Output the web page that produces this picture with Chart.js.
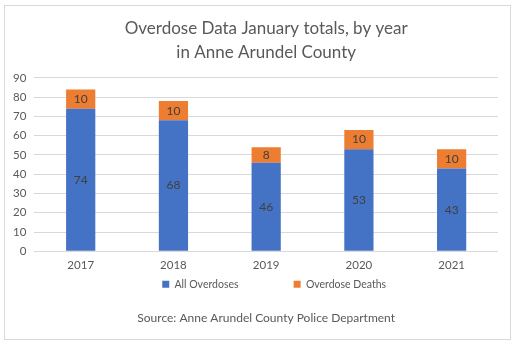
<!DOCTYPE html>
<html>
<head>
<meta charset="utf-8">
<script src="https://cdn.jsdelivr.net/npm/chart.js@4/dist/chart.umd.min.js"></script>
<style>
body { margin: 0; background: #fff; width: 517px; height: 347px; overflow: hidden; }
#box { position: absolute; left: 4px; top: 5px; width: 505px; height: 333px; border: 1px solid #d9d9d9; }
</style>
</head>
<body>
<div id="box"><canvas id="chart" width="505" height="333"></canvas></div>
<script>
// ====================
// Data
// ====================
const years = ["2017", "2018", "2019", "2020", "2021"];
const allOverdoses = [74, 68, 46, 53, 43];
const overdoseDeaths = [10, 10, 8, 10, 10];
const yTicks = [0, 10, 20, 30, 40, 50, 60, 70, 80, 90];

const FONT = "Lato, sans-serif";

// labels in the middle of each bar segment
const barLabels = {
    id: "barLabels",
    afterDatasetsDraw(chart) {
        const ctx = chart.ctx;
        ctx.save();
        ctx.font = "12px " + FONT;
        ctx.fillStyle = "#404040";
        ctx.textAlign = "center";
        ctx.textBaseline = "middle";
        chart.data.datasets.forEach((ds, i) => {
            chart.getDatasetMeta(i).data.forEach((bar, j) => {
                const mid = (bar.y + bar.base) / 2;
                ctx.fillText(ds.data[j], bar.x, mid);
            });
        });
        ctx.restore();
    }
};

// nudge the legend a bit right, like the original
const legendShift = {
    id: "legendShift",
    afterLayout(chart) {
        const lg = chart.legend;
        lg.left += 8;
        lg.right += 8;
    }
};

new Chart(document.getElementById("chart"), {
    type: "bar",
    data: {
        labels: years,
        datasets: [
            { label: "All Overdoses", data: allOverdoses, backgroundColor: "#4472c4" },
            { label: "Overdose Deaths", data: overdoseDeaths, backgroundColor: "#ed7d31" }
        ]
    },
    options: {
        responsive: false,
        animation: false,
        categoryPercentage: 1,
        barPercentage: 0.315,
        layout: { padding: { left: 0, right: 12, top: 6, bottom: 10 } },
        plugins: {
            tooltip: { enabled: false },
            title: {
                display: true,
                fullSize: false,
                text: ["Overdose Data January totals, by year", "in Anne Arundel County"],
                color: "#595959",
                font: { family: FONT, size: 17, weight: "normal", lineHeight: 1.41 },
                padding: { top: 5, bottom: 13 }
            },
            legend: {
                position: "bottom",
                fullSize: false,
                labels: {
                    color: "#595959",
                    font: { family: FONT, size: 10.5 },
                    boxWidth: 7,
                    boxHeight: 7,
                    padding: 0,
                    generateLabels(chart) {
                        const items = Chart.defaults.plugins.legend.labels.generateLabels(chart);
                        items[0].text += "\u2003\u2003\u2003\u2003\u2003\u2003\u2003";
                        items.forEach(it => { it.lineWidth = 0; });
                        return items;
                    }
                }
            },
            subtitle: {
                display: true,
                fullSize: false,
                position: "bottom",
                text: "Source: Anne Arundel County Police Department",
                color: "#595959",
                font: { family: FONT, size: 12 },
                padding: { top: 11, bottom: 4 }
            }
        },
        scales: {
            x: {
                stacked: true,
                grid: { display: false, drawTicks: false },
                border: { display: false },
                ticks: { color: "#595959", font: { family: FONT, size: 11.5 }, padding: 7 }
            },
            y: {
                stacked: true,
                min: 0,
                max: 90,
                afterBuildTicks(axis) { axis.ticks = yTicks.map(v => ({ value: v })); },
                grid: { color: "#d9d9d9", drawTicks: false },
                border: { display: false },
                ticks: { color: "#595959", font: { family: FONT, size: 11.5 }, padding: 8 }
            }
        }
    },
    plugins: [barLabels, legendShift]
});
</script>
</body>
</html>
